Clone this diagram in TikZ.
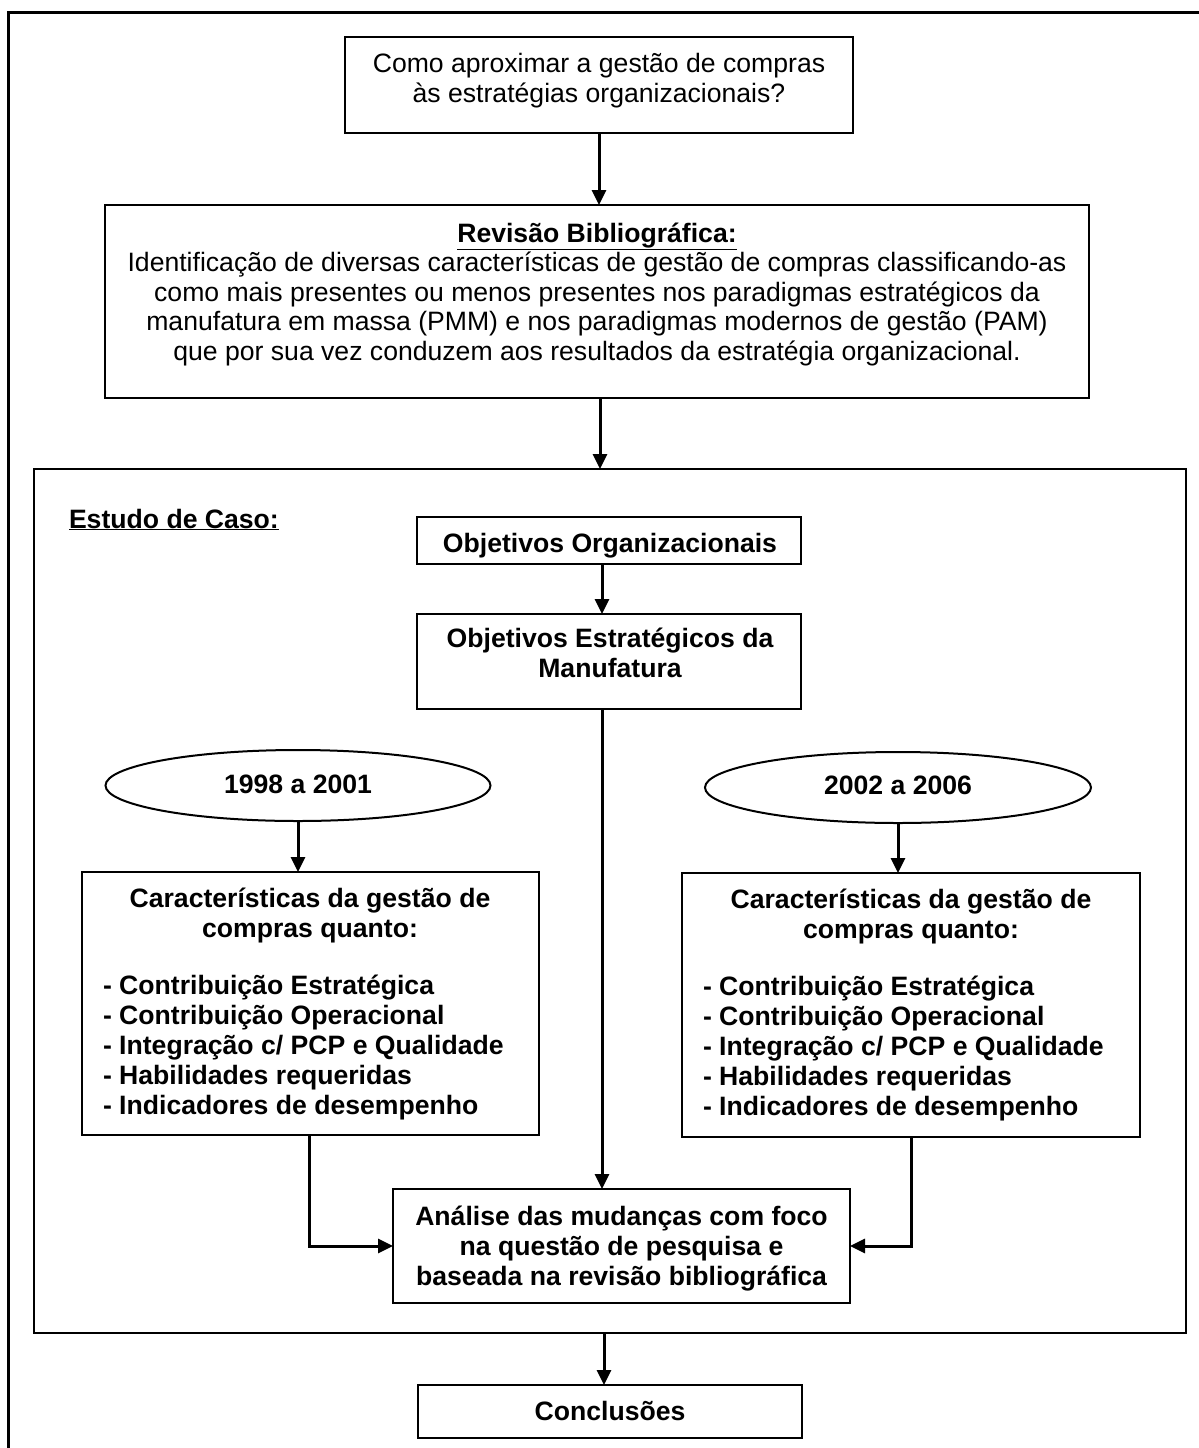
\documentclass[tikz,border=0pt]{standalone}
\usepackage{fontspec}
\setmainfont{Liberation Sans}
\usetikzlibrary{shapes.geometric,arrows.meta,calc}
\begin{document}
\begin{tikzpicture}[x=1pt,y=-1pt,
  every node/.style={inner sep=0pt, outer sep=0pt},
  box/.style={draw, line width=2pt, rectangle},
  oval/.style={draw, line width=2pt, ellipse},
  txt/.style={font=\fontsize{26.6}{29.5}\selectfont, align=center},
  btxt/.style={font=\fontsize{26.6}{30}\selectfont\bfseries, align=center},
  blist/.style={font=\fontsize{26.6}{30}\selectfont\bfseries, align=left},
  arr/.style={line width=3pt, -{Triangle[width=14pt,length=15pt]}},
  ]
\fill[white] (0,0) rectangle (1199,1448);
\useasboundingbox (0,0) rectangle (1199,1448);

% open page frame (left and top edges)
\draw[line width=3pt] (8,1448) -- (8,12) -- (1199,12);

% vertical guide positions for the arrows
\coordinate (xa) at (599,0);
\coordinate (xb) at (600,0);
\coordinate (xc) at (602,0);
\coordinate (xd) at (604,0);

% research question (multi-line texts are placed by the baseline of their last line)
\node[box, minimum width=508, minimum height=96] (quest) at (599,85) {};
\node[txt, anchor=base] (questT) at (599,102)
  {Como aproximar a gestão de compras\\às estratégias organizacionais?};

% literature review
\node[box, minimum width=984, minimum height=193] (rev) at (597,301.5) {};
\node[txt, anchor=base] (revT) at (597,360)
  {\textbf{\underline{Revisão Bibliográfica:}}\\
   Identificação de diversas características de gestão de compras classificando-as\\
   como mais presentes ou menos presentes nos paradigmas estratégicos da\\
   manufatura em massa (PMM) e nos paradigmas modernos de gestão (PAM)\\
   que por sua vez conduzem aos resultados da estratégia organizacional.};

% case study frame
\node[draw, line width=2.5pt, minimum width=1152, minimum height=864] (frame) at (610,901) {};
\node[btxt, anchor=base west] (caseT) at (69,528) {\underline{Estudo de Caso:}};

\node[box, minimum width=384, minimum height=47] (org) at (609,540.5) {};
\node[btxt, anchor=base] (orgT) at (610,552) {Objetivos Organizacionais};

\node[box, minimum width=384, minimum height=95] (man) at (609,661.5) {};
\node[btxt, anchor=base] (manT) at (610,677) {Objetivos Estratégicos da\\Manufatura};

% periods
\node[oval, minimum width=385, minimum height=71] (p1) at (298,785.5) {};
\node[btxt, anchor=base] (p1T) at (298,793) {1998 a 2001};
\node[oval, minimum width=386, minimum height=71] (p2) at (898,787.5) {};
\node[btxt, anchor=base] (p2T) at (898,794) {2002 a 2006};

% characteristics, first period
\node[box, minimum width=457, minimum height=263] (c1) at (310.5,1003.5) {};
\node[btxt, anchor=base] (c1T) at (310,937) {Características da gestão de\\compras quanto:};
\node[blist, anchor=base west] (c1L) at (103,1114)
  {- Contribuição Estratégica\\- Contribuição Operacional\\- Integração c/ PCP e Qualidade\\- Habilidades requeridas\\- Indicadores de desempenho};

% characteristics, second period
\node[box, minimum width=458, minimum height=264] (c2) at (911,1005) {};
\node[btxt, anchor=base] (c2T) at (911,938) {Características da gestão de\\compras quanto:};
\node[blist, anchor=base west] (c2L) at (703,1115)
  {- Contribuição Estratégica\\- Contribuição Operacional\\- Integração c/ PCP e Qualidade\\- Habilidades requeridas\\- Indicadores de desempenho};

% analysis
\node[box, minimum width=457, minimum height=114] (ana) at (621.5,1246) {};
\node[btxt, anchor=base] (anaT) at (621.5,1285)
  {Análise das mudanças com foco\\na questão de pesquisa e\\baseada na revisão bibliográfica};

% conclusions
\node[box, minimum width=384, minimum height=53] (conc) at (610,1411.5) {};
\node[btxt, anchor=base] (concT) at (610,1420) {Conclusões};

% connectors
\draw[arr] (quest.south -| xa) -- (rev.north -| xa);
\draw[arr] (rev.south -| xb) -- (frame.north -| xb);
\draw[arr] (org.south -| xc) -- (man.north -| xc);
\draw[arr] (man.south -| xc) -- (ana.north -| xc);
\draw[arr] (p1) -- (c1.north -| p1);
\draw[arr] (p2) -- (c2.north -| p2);
\draw[arr] ([xshift=-1.5pt]c1.south) |- (ana.west);
\draw[arr] (c2.south) |- (ana.east);
\draw[arr] (frame.south -| xd) -- (conc.north -| xd);
\end{tikzpicture}
\end{document}
